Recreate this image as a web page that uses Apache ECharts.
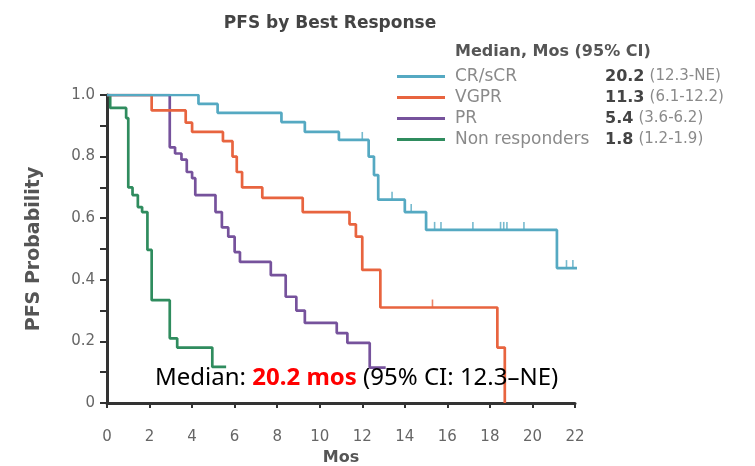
<!DOCTYPE html>
<html>
<head>
<meta charset="utf-8">
<script src="https://cdn.jsdelivr.net/npm/echarts@6/dist/echarts.min.js"></script>
<style>html,body{margin:0;padding:0;background:#fff}#c{width:755px;height:466px}</style>
</head>
<body>
<div id="c"></div>
<script>
// ---- data ----
var seriesNames = ['CR/sCR', 'VGPR', 'PR', 'Non responders'];
var medians = ['20.2', '11.3', '5.4', '1.8'];
var cis = ['(12.3-NE)', '(6.1-12.2)', '(3.6-6.2)', '(1.2-1.9)'];
var xTicks = [0, 2, 4, 6, 8, 10, 12, 14, 16, 18, 20, 22];
var yTickLabels = ['0', '0.2', '0.4', '0.6', '0.8', '1.0'];

var crT = [0, 4.3, 5.2, 8.2, 9.3, 10.9, 12.3, 12.55, 12.75, 14.0, 15.0, 21.15, 22.1];
var crP = [1.0, 0.971, 0.942, 0.912, 0.880, 0.854, 0.80, 0.74, 0.66, 0.62, 0.562, 0.438, 0.438];
var vgprT = [0, 2.1, 3.7, 4.0, 5.45, 5.9, 6.1, 6.35, 7.3, 9.2, 11.4, 11.7, 12.0, 12.85, 18.35, 18.7];
var vgprP = [1.0, 0.95, 0.91, 0.88, 0.85, 0.80, 0.75, 0.70, 0.666, 0.62, 0.58, 0.54, 0.432, 0.31, 0.18, 0.0];
var prT = [0, 2.95, 3.2, 3.5, 3.75, 4.0, 4.15, 5.1, 5.4, 5.7, 6.0, 6.25, 7.7, 8.4, 8.9, 9.3, 10.8, 11.3, 12.35, 13.1];
var prP = [1.0, 0.83, 0.81, 0.79, 0.75, 0.73, 0.675, 0.62, 0.57, 0.54, 0.49, 0.458, 0.415, 0.345, 0.30, 0.26, 0.227, 0.195, 0.115, 0.115];
var nrT = [0, 0.15, 0.9, 1.0, 1.2, 1.45, 1.65, 1.9, 2.1, 2.95, 3.3, 4.95, 5.6];
var nrP = [1.0, 0.958, 0.925, 0.70, 0.675, 0.636, 0.62, 0.497, 0.334, 0.21, 0.18, 0.117, 0.117];

var crCensorT = [12.0, 13.4, 14.3, 15.4, 15.7, 17.2, 18.5, 18.65, 18.8, 19.6, 21.6, 21.9];
var crCensorP = [0.854, 0.66, 0.62, 0.562, 0.562, 0.562, 0.562, 0.562, 0.562, 0.562, 0.438, 0.438];
var vgprCensorT = [15.3];
var vgprCensorP = [0.31];

var colors = ['#55a9c2', '#e8643f', '#76529c', '#2f8c5e'];

function zip(a, b) { return a.map(function (v, i) { return [v, b[i]]; }); }

var curves = [zip(crT, crP), zip(vgprT, vgprP), zip(prT, prP), zip(nrT, nrP)];
var series = curves.map(function (d, i) {
  return {
    name: seriesNames[i], type: 'line', step: 'end', data: d,
    showSymbol: false, symbol: 'none', z: 3 + (3 - i),
    lineStyle: { color: colors[i], width: 2.7 },
    itemStyle: { color: colors[i] }
  };
});
series.push({
  type: 'scatter', data: zip(crCensorT, crCensorP), symbol: 'rect', symbolSize: [1.6, 8],
  symbolOffset: [0, -4], itemStyle: { color: colors[0] }, silent: true, z: 8
});
series.push({
  type: 'scatter', data: zip(vgprCensorT, vgprCensorP), symbol: 'rect', symbolSize: [1.6, 8],
  symbolOffset: [0, -4], itemStyle: { color: colors[1] }, silent: true, z: 8
});

var chart = echarts.init(document.getElementById('c'), null, { renderer: 'canvas' });
var font = 'DejaVu Sans';
chart.setOption({
  animation: false,
  backgroundColor: '#fff',
  textStyle: { fontFamily: font },
  title: {
    text: 'PFS by Best Response', left: 325, top: 10, textAlign: 'center',
    textStyle: { fontFamily: font, fontSize: 17, fontWeight: 'bold', color: '#444' }
  },
  grid: { left: 107, right: 180, top: 95, bottom: 63, outerBoundsMode: 'none', containLabel: false },
  legend: {
    orient: 'vertical', left: 392, top: 61, itemWidth: 48, itemHeight: 3, itemGap: 0,
    icon: 'rect', selectedMode: false,
    data: seriesNames,
    formatter: function (name) {
      var i = seriesNames.indexOf(name);
      return '{n|' + name + '}{b|' + medians[i] + '} {c|' + cis[i] + '}';
    },
    textStyle: {
      fontFamily: font, fontSize: 16, color: '#888', lineHeight: 21,
      rich: {
        n: { width: 150, padding: [0, 0, 0, 5], fontSize: 17, color: '#8a8a8a', fontFamily: font },
        b: { fontSize: 16, fontWeight: 'bold', color: '#444', fontFamily: font },
        c: { fontSize: 15, color: '#8a8a8a', fontFamily: font }
      }
    }
  },
  graphic: [
    {
      type: 'text', left: 455, top: 44,
      style: { text: 'Median, Mos (95% CI)', font: 'bold 16px "DejaVu Sans"', fill: '#555' }
    },
    {
      type: 'text', left: 155, top: 366, z: 100,
      style: {
        text: '{a|Median: }{r|20.2 mos}{a| (95% CI: 12.3\u2013NE)}',
        rich: {
          a: { fontFamily: 'Noto Sans', fontSize: 24, fill: '#000' },
          r: { fontFamily: 'Noto Sans', fontSize: 24, fontWeight: 'bold', fill: '#ff0000' }
        }
      }
    }
  ],
  xAxis: {
    type: 'value', min: 0, max: 22, interval: 2,
    name: 'Mos', nameLocation: 'middle', nameGap: 44,
    nameTextStyle: { fontFamily: font, fontSize: 16, fontWeight: 'bold', color: '#555' },
    axisLine: { show: true, onZero: false, lineStyle: { color: '#333', width: 3 } },
    axisTick: { show: true, length: 5, inside: false, lineStyle: { color: '#333', width: 2 } },
    axisLabel: {
      margin: 27, fontSize: 15, color: '#666', fontFamily: font,
      formatter: function (v) { return xTicks.indexOf(v) >= 0 ? String(v) : ''; }
    },
    splitLine: { show: false }
  },
  yAxis: {
    type: 'value', min: 0, max: 1, interval: 0.2,
    name: 'PFS Probability', nameLocation: 'middle', nameGap: 63, nameRotate: 90,
    nameTextStyle: { fontFamily: font, fontSize: 19, fontWeight: 'bold', color: '#555' },
    axisLine: { show: true, onZero: false, lineStyle: { color: '#333', width: 3 } },
    axisTick: { show: true, length: 7, lineStyle: { color: '#333', width: 2 } },
    minorTick: { show: true, splitNumber: 2, length: 7, lineStyle: { color: '#333', width: 2 } },
    axisLabel: {
      margin: 12, fontSize: 15, color: '#666', fontFamily: font,
      formatter: function (v) { return yTickLabels[Math.round(v * 5)]; }
    },
    splitLine: { show: false }
  },
  series: series
});
</script>
</body>
</html>
